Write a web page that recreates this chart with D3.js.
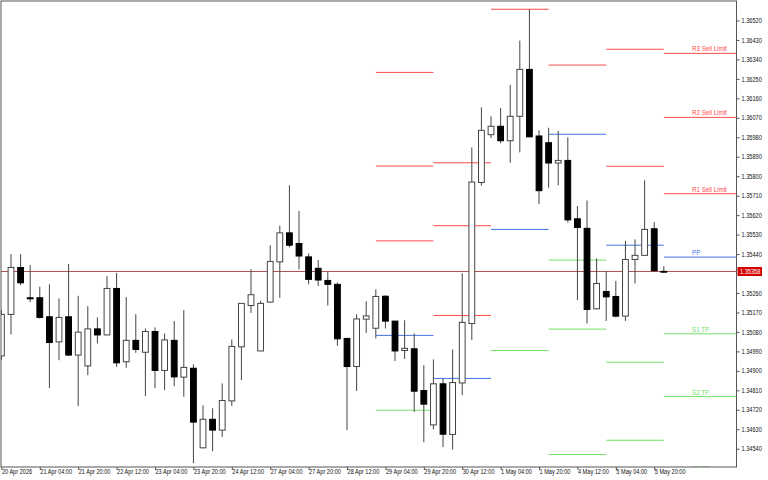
<!DOCTYPE html>
<html>
<head>
<meta charset="utf-8">
<script src="https://cdn.jsdelivr.net/npm/d3@7"></script>
<style>
  html, body { margin: 0; padding: 0; background: #fff; }
  text { font-family: "Liberation Sans", sans-serif; }
</style>
</head>
<body>
<div id="chart"></div>
<script>
// H4 bars, oldest first
var opens = [1.34969,1.35161,1.35378,1.35238,1.35238,1.35150,1.35034,1.35150,1.34973,1.34923,1.35094,1.35066,1.35281,1.34942,1.35041,1.34986,1.35082,1.34902,1.35041,1.34871,1.34912,1.34544,1.34676,1.34626,1.34761,1.35011,1.35202,1.34992,1.35218,1.35404,1.35538,1.35489,1.35427,1.35374,1.35318,1.35300,1.35050,1.34920,1.35139,1.35097,1.35245,1.35130,1.34994,1.35002,1.34809,1.34650,1.34840,1.34606,1.34844,1.35119,1.35771,1.35992,1.36031,1.35964,1.36077,1.36294,1.35986,1.35955,1.35861,1.35873,1.35603,1.35559,1.35187,1.35267,1.35244,1.35153,1.35415,1.35434,1.35557,1.35360];
var highs = [1.35181,1.35440,1.35440,1.35389,1.35289,1.35300,1.35235,1.35394,1.35247,1.35199,1.35147,1.35338,1.35353,1.35241,1.35162,1.35096,1.35101,1.35073,1.35130,1.35181,1.34930,1.34741,1.34727,1.34842,1.35045,1.35213,1.35370,1.35224,1.35481,1.35571,1.35758,1.35639,1.35443,1.35412,1.35358,1.35309,1.35051,1.35161,1.35222,1.35277,1.35250,1.35131,1.35134,1.35073,1.34926,1.34953,1.34865,1.34999,1.35351,1.35933,1.36118,1.36077,1.36115,1.36222,1.36427,1.36572,1.36013,1.36024,1.36010,1.35980,1.35662,1.35688,1.35420,1.35361,1.35316,1.35501,1.35508,1.35781,1.35588,1.35384];
var lows = [1.34949,1.35068,1.35296,1.35218,1.35142,1.34821,1.34949,1.34968,1.34737,1.34880,1.35027,1.35065,1.34918,1.34914,1.34983,1.34784,1.34820,1.34811,1.34829,1.34780,1.34473,1.34542,1.34528,1.34595,1.34738,1.34857,1.35168,1.34991,1.35215,1.35238,1.35471,1.35369,1.35300,1.35292,1.35202,1.35016,1.34626,1.34807,1.35076,1.35050,1.35096,1.34945,1.34955,1.34710,1.34570,1.34629,1.34548,1.34536,1.34788,1.35042,1.35756,1.35976,1.35952,1.35862,1.35910,1.35981,1.35671,1.35747,1.35758,1.35586,1.35227,1.35119,1.35184,1.35131,1.35147,1.35131,1.35304,1.35433,1.35361,1.35354];
var closes = [1.35161,1.35378,1.35307,1.35233,1.35147,1.35031,1.35147,1.34973,1.35079,1.35094,1.35066,1.35281,1.34937,1.35041,1.34999,1.35082,1.34902,1.35043,1.34872,1.34916,1.34663,1.34676,1.34626,1.34763,1.35013,1.35212,1.35252,1.35212,1.35406,1.35538,1.35481,1.35431,1.35323,1.35320,1.35300,1.35048,1.34920,1.35140,1.35154,1.35244,1.35130,1.34992,1.35004,1.34806,1.34746,1.34840,1.34607,1.34846,1.35124,1.35773,1.36012,1.36031,1.35964,1.36077,1.36294,1.35982,1.35733,1.35861,1.35873,1.35598,1.35563,1.35184,1.35304,1.35242,1.35153,1.35415,1.35434,1.35554,1.35363,1.35358];

var currentPrice = 1.35358;

// daily levels, [first bar, last bar] with resistance / pivot / support prices
var levelStart = [39, 45, 51, 57, 63, 69];
var levelEnd = [45, 51, 57, 63, 69, 77];
var r3 = [1.36280, 1.35862, 1.36572, 1.36314, 1.36387, 1.36368];
var r2 = [1.35847, 1.35571, null, null, 1.35846, 1.36072];
var r1 = [1.35501, 1.35156, null, null, null, 1.35719];
var pp = [1.35064, 1.34865, 1.35554, 1.35994, 1.35481, 1.35426];
var s1 = [1.34718, null, 1.34994, 1.35412, 1.34940, 1.35071];
var s2 = [null, null, null, 1.35093, 1.34579, 1.34781];
var s3 = [null, null, null, 1.34513, null, 1.34427];

var levelLabels = ["R3 Sell Limit", "R2 Sell Limit", "R1 Sell Limit", "PP", "S1 TP", "S2 TP", "S3 TP"];

// the 1.35350 tick sits under the price tag, so it is left out
var priceTicks = [1.36520,1.36430,1.36340,1.36250,1.36160,1.36070,1.35980,1.35890,1.35800,1.35710,1.35620,1.35530,1.35440,1.35260,1.35170,1.35080,1.34990,1.34900,1.34810,1.34720,1.34630,1.34540];
var timeTickBars = [0,4,8,12,16,20,24,28,32,36,40,44,48,52,56,60,64,68];
var timeTickLabels = ["20 Apr 2026","21 Apr 04:00","21 Apr 20:00","22 Apr 12:00","23 Apr 04:00","23 Apr 20:00","24 Apr 12:00","27 Apr 04:00","27 Apr 20:00","28 Apr 12:00","29 Apr 04:00","29 Apr 20:00","30 Apr 12:00","1 May 04:00","1 May 20:00","4 May 12:00","5 May 04:00","5 May 20:00"];

var RED = "#ff4a4a", BLUE = "#4473e6", GREEN = "#72e066";
var levelColors = [RED, RED, RED, BLUE, GREEN, GREEN, GREEN];

var width = 768, height = 480;
var left = 1, top_ = 1, right = 736.5, bottom = 467;

var x = d3.scaleLinear().domain([0, 76.57]).range([1.4, right]);
var y = d3.scaleLinear().domain([1.3454, 1.3652]).range([448.7, 20.5]);

// terminal font is narrower than Liberation, squeeze the glyphs
function narrow(selection, factor) {
  selection.each(function() {
    d3.select(this)
      .attr("textLength", this.getComputedTextLength() * factor)
      .attr("lengthAdjust", "spacingAndGlyphs");
  });
}

var svg = d3.select("#chart").append("svg")
  .attr("width", width)
  .attr("height", height)
  .style("display", "block");

svg.append("clipPath").attr("id", "plot").append("rect")
  .attr("x", left).attr("y", top_)
  .attr("width", right - left).attr("height", bottom - top_);

var plot = svg.append("g").attr("clip-path", "url(#plot)");

//current price line
var priceY = Math.floor(y(currentPrice)) + 0.5;
plot.append("line")
  .attr("x1", left).attr("x2", right)
  .attr("y1", priceY).attr("y2", priceY)
  .attr("stroke", "#b45555").attr("stroke-width", 1);

//levels
var levelRows = [r3, r2, r1, pp, s1, s2, s3];
levelRows.forEach(function(row, k) {
  row.forEach(function(price, d) {
    if (price == null) return;
    plot.append("line")
      .attr("x1", x(levelStart[d])).attr("x2", x(levelEnd[d]))
      .attr("y1", y(price)).attr("y2", y(price))
      .attr("stroke", levelColors[k]).attr("stroke-width", 1);
  });
  // label sits on the line of the last day
  var lastPrice = row[row.length - 1];
  plot.append("text")
    .attr("x", 692)
    .attr("y", y(lastPrice) - 2)
    .attr("font-size", "6.6px")
    .attr("fill", levelColors[k])
    .text(levelLabels[k])
    .call(narrow, 0.94);
});

//candles
var bars = d3.range(opens.length);
var candles = plot.selectAll("g.candle").data(bars).enter().append("g").attr("class", "candle");

candles.append("line")
  .attr("x1", function(i) { return x(i); })
  .attr("x2", function(i) { return x(i); })
  .attr("y1", function(i) { return y(highs[i]); })
  .attr("y2", function(i) { return y(lows[i]); })
  .attr("stroke", "#444")
  .attr("stroke-width", 1);

candles.append("rect")
  .attr("x", function(i) { return x(i) - 2.9; })
  .attr("width", 5.8)
  .attr("y", function(i) { return y(Math.max(opens[i], closes[i])); })
  .attr("height", function(i) { return Math.max(0.8, Math.abs(y(opens[i]) - y(closes[i]))); })
  .attr("fill", function(i) { return closes[i] >= opens[i] ? "#fff" : "#000"; })
  .attr("stroke", function(i) { return closes[i] >= opens[i] ? "#444" : "#000"; })
  .attr("stroke-width", 1);

//frame
svg.append("rect")
  .attr("x", left).attr("y", top_)
  .attr("width", right - left).attr("height", bottom - top_)
  .attr("fill", "none").attr("stroke", "#555").attr("stroke-width", 1);

//axes
var yAxis = d3.axisRight(y)
  .tickValues(priceTicks)
  .tickSize(3)
  .tickPadding(2)
  .tickFormat(d3.format(".5f"));
var gy = svg.append("g").attr("transform", "translate(" + right + ",0)").call(yAxis);

var xAxis = d3.axisBottom(x)
  .tickValues(timeTickBars)
  .tickSize(3)
  .tickPadding(0)
  .tickFormat(function(d) { return timeTickLabels[timeTickBars.indexOf(d)]; });
var gx = svg.append("g").attr("transform", "translate(0," + bottom + ")").call(xAxis);

[gy, gx].forEach(function(g) {
  g.select(".domain").remove();
  g.selectAll("line").attr("stroke", "#555");
  g.selectAll("text").attr("font-size", "6.6px").attr("fill", "#111")
    .style("font-family", "'Liberation Sans', sans-serif");
});
gx.selectAll("text").attr("text-anchor", "start").attr("dy", "0.55em").call(narrow, 0.85);
gy.selectAll("text").call(narrow, 0.85);

//current price tag
svg.append("rect")
  .attr("x", right + 1).attr("y", priceY - 4.5)
  .attr("width", 24.5).attr("height", 9)
  .attr("fill", "#d40000");
svg.append("text")
  .attr("x", right + 3.5).attr("y", priceY + 2.4)
  .attr("font-size", "6.6px")
  .attr("fill", "#fff")
  .text(d3.format(".5f")(currentPrice))
  .call(narrow, 0.85);
</script>
</body>
</html>
